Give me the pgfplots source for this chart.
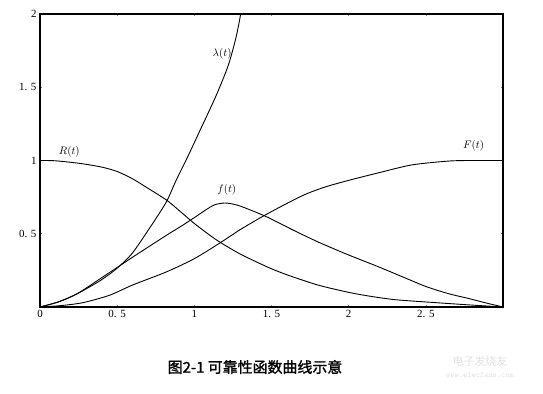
\documentclass[border=0pt]{standalone}
\usepackage{pgfplots}
\pgfplotsset{compat=1.18}
\usepackage{fontspec}
\setmainfont{Liberation Serif}
\newfontfamily\cjk[FakeBold=1.5]{Noto Sans CJK SC}
\newfontfamily\cjkl{Noto Sans CJK SC}
\begin{document}
\begin{tikzpicture}
\path[use as bounding box] (-40bp,-87bp) rectangle (503bp,307bp);
\begin{axis}[
  at={(0,0)}, anchor=south west,
  scale only axis, width=463bp, height=293bp,
  xmin=0, xmax=3, ymin=0, ymax=2,
  axis line style={line width=1.1bp},
  xtick={0,0.5,1,1.5,2,2.5},
  xticklabels={0,0. 5,1,1. 5,2,2. 5},
  ytick={0.5,1,1.5,2},
  yticklabels={0. 5,1,1. 5,2},
  tick align=inside, major tick length=2bp,
  tick style={line width=0.5bp},
  ticklabel style={font=\fontsize{11}{13}\selectfont},
  /pgf/number format/assume math mode=true,
  curve/.style={black, line width=0.9bp, smooth, tension=0.45, mark=none},
  clip=true,
]
% R(t)
\addplot[curve] coordinates {(0,1) (0.1,0.998) (0.26,0.98) (0.4,0.955) (0.5,0.925) (0.6,0.875) (0.7,0.81) (0.82,0.73) (0.9,0.66) (1.0,0.57) (1.1,0.49) (1.17,0.44) (1.3,0.36) (1.48,0.27) (1.6,0.22) (1.8,0.15) (2.0,0.10) (2.13,0.075) (2.3,0.05) (2.56,0.03) (2.8,0.013) (3.0,0)};
% f(t)
\addplot[curve] coordinates {(0,0) (0.12,0.035) (0.24,0.09) (0.4,0.2) (0.6,0.34) (0.82,0.49) (0.92,0.555) (1.0,0.61) (1.07,0.66) (1.13,0.697) (1.2,0.71) (1.28,0.695) (1.38,0.655) (1.48,0.61) (1.65,0.52) (1.81,0.44) (2.0,0.355) (2.18,0.28) (2.34,0.21) (2.5,0.14) (2.65,0.09) (2.77,0.06) (2.9,0.025) (3.0,0)};
% F(t)
\addplot[curve] coordinates {(0,0) (0.14,0.01) (0.28,0.03) (0.45,0.08) (0.6,0.15) (0.82,0.24) (1.0,0.33) (1.17,0.44) (1.3,0.53) (1.48,0.64) (1.7,0.76) (1.85,0.82) (2.02,0.87) (2.19,0.915) (2.41,0.97) (2.66,0.997) (2.85,1.0) (3.0,1.0)};
% lambda(t)
\addplot[curve] coordinates {(0,0) (0.12,0.035) (0.24,0.09) (0.39,0.18) (0.5,0.265) (0.6,0.37) (0.73,0.57) (0.82,0.72) (0.88,0.86) (0.95,1.01) (1.03,1.19) (1.14,1.44) (1.22,1.65) (1.27,1.84) (1.30,2.0) (1.31,2.1)};
\node[font=\fontsize{10.5}{12}\selectfont] at (axis cs:1.18,1.73) {$\lambda(t)$};
\node[font=\fontsize{10.5}{12}\selectfont] at (axis cs:0.19,1.06) {$R(t)$};
\node[font=\fontsize{10.5}{12}\selectfont] at (axis cs:1.21,0.80) {$f(t)$};
\node[font=\fontsize{10.5}{12}\selectfont] at (axis cs:2.81,1.10) {$F(t)$};
\end{axis}
\node[font=\cjk\fontsize{15}{18}\selectfont] at (215bp,-60bp) {图2-1\ 可靠性函数曲线示意};
\node[font=\cjkl\fontsize{11}{13}\selectfont, text=black!12] at (440bp,-54bp) {电子发烧友};
\node[font=\fontsize{8}{10}\selectfont\ttfamily, text=black!12] at (440bp,-68bp) {www.elecfans.com};
\end{tikzpicture}
\end{document}
